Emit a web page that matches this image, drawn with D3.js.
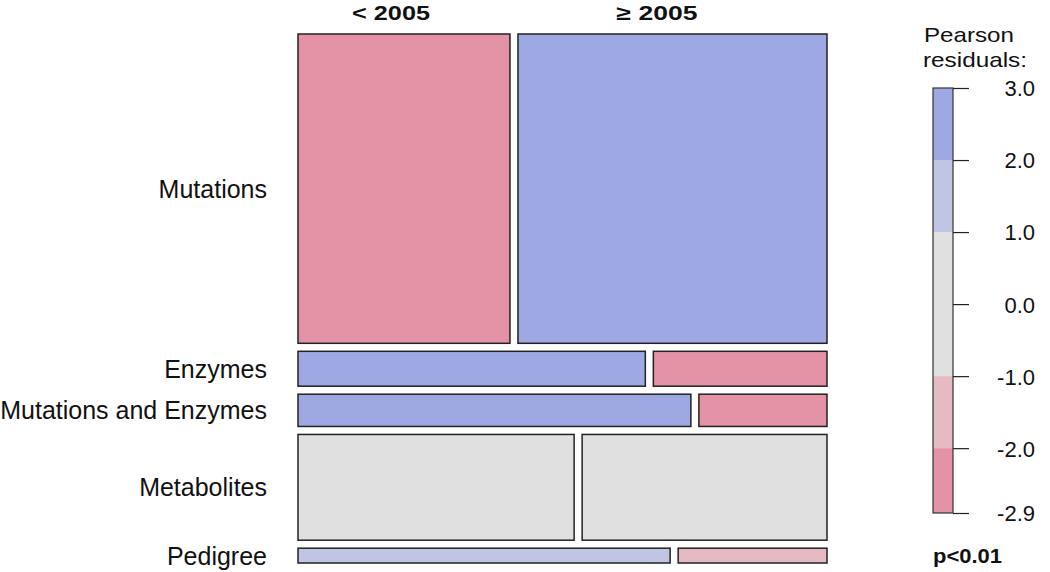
<!DOCTYPE html>
<html><head><meta charset="utf-8">
<script src="https://cdn.jsdelivr.net/npm/d3@7"></script>
<style>body{margin:0;background:#fff}svg{display:block}</style>
</head><body>
<script>
// Data (counts read from tile proportions)
const rows = ["Mutations", "Enzymes", "Mutations and Enzymes", "Metabolites", "Pedigree"];
const cols = ["< 2005", "\u2265 2005"];
const before2005 = [238, 44, 46, 106, 20];
const after2005 = [347, 22, 15, 94, 8];
const legendTicks = [3.0, 2.0, 1.0, 0.0, -1.0, -2.0, -2.9];

const W = 1050, H = 572;
const svg = d3.select("body").append("svg").attr("width", W).attr("height", H);
const SANS = "Liberation Sans, Arial, sans-serif";
const BOLD = "Liberation Sans, Arial, sans-serif";

const counts = rows.map((r, i) => [before2005[i], after2005[i]]);
const rowTot = counts.map(c => c[0] + c[1]);
const colTot = [d3.sum(before2005), d3.sum(after2005)];
const N = d3.sum(rowTot);

const resid = counts.map((c, i) => c.map((o, j) => {
  const e = rowTot[i] * colTot[j] / N;
  return (o - e) / Math.sqrt(e);
}));

function shade(r) {
  if (r >= 2) return "#9ea8e3";
  if (r >= 1) return "#c0c5e4";
  if (r > -1) return "#e0e0e0";
  if (r > -2) return "#e5bac2";
  return "#e393a5";
}

const x0 = 298, x1 = 827, y0 = 34, y1 = 563, gap = 8;
const yScale = d3.scaleLinear().domain([0, N]).range([0, (y1 - y0) - gap * (rows.length - 1)]);
const xScale = d3.scaleLinear().domain([0, 1]).range([0, (x1 - x0) - gap]);

let yc = y0;
const tiles = [];
rows.forEach((r, i) => {
  const h = yScale(rowTot[i]);
  let xc = x0;
  counts[i].forEach((c, j) => {
    const w = xScale(c / rowTot[i]);
    tiles.push({x: xc, y: yc, w, h, res: resid[i][j]});
    xc += w + gap;
  });
  svg.append("text").attr("x", 267).attr("y", yc + h / 2 + 9).attr("text-anchor", "end")
    .attr("font-family", SANS).attr("font-size", 25).attr("fill", "#111").text(r);
  yc += h + gap;
});

svg.selectAll("rect.tile").data(tiles).join("rect").attr("class", "tile")
  .attr("x", d => d.x).attr("y", d => d.y).attr("width", d => d.w).attr("height", d => d.h)
  .attr("fill", d => shade(d.res)).attr("stroke", "#222").attr("stroke-width", 1.5);

// column labels
const colX = [391, 657];
const colW = [78, 81];
cols.forEach((c, j) => {
  svg.append("text").attr("x", colX[j] - colW[j] / 2).attr("y", 20)
    .attr("font-family", BOLD).attr("font-weight", "bold").attr("textLength", colW[j])
    .attr("lengthAdjust", "spacingAndGlyphs")
    .attr("font-size", 20).attr("fill", "#111").text(c);
});

// legend
const lx = 933, lw = 20;
const ls = d3.scaleLinear().domain([-2.9, 3.0]).range([513, 88]);
const bands = [[2, 3.0], [1, 2], [-1, 1], [-2, -1], [-2.9, -2]];
svg.selectAll("rect.band").data(bands).join("rect").attr("class", "band")
  .attr("x", lx).attr("width", lw).attr("y", d => ls(d[1])).attr("height", d => ls(d[0]) - ls(d[1]))
  .attr("fill", d => shade((d[0] + d[1]) / 2));
svg.append("rect").attr("x", lx).attr("y", ls(3.0)).attr("width", lw).attr("height", ls(-2.9) - ls(3.0))
  .attr("fill", "none").attr("stroke", "#333").attr("stroke-width", 1.2);
const axis = d3.axisRight(ls).tickValues(legendTicks).tickFormat(d => d.toFixed(1)).tickSize(16).tickPadding(0);
const ag = svg.append("g").attr("transform", `translate(${lx + lw},0)`).call(axis);
ag.select(".domain").remove();
ag.selectAll(".tick line").attr("stroke", "#222").attr("stroke-width", 1.2);
ag.selectAll(".tick text").attr("x", 82).attr("dy", "0.36em").attr("text-anchor", "end")
  .attr("font-family", SANS).attr("font-size", 22).attr("fill", "#111");

svg.append("text").attr("x", 924).attr("y", 42).attr("font-family", SANS)
  .attr("font-size", 21).attr("fill", "#111").attr("textLength", 90).attr("lengthAdjust", "spacingAndGlyphs").text("Pearson");
svg.append("text").attr("x", 923).attr("y", 67).attr("font-family", SANS)
  .attr("font-size", 21).attr("fill", "#111").attr("textLength", 104).attr("lengthAdjust", "spacingAndGlyphs").text("residuals:");
svg.append("text").attr("x", 933).attr("y", 563).attr("font-family", BOLD)
  .attr("font-weight", "bold").attr("font-size", 20).attr("fill", "#111")
  .attr("textLength", 69).attr("lengthAdjust", "spacingAndGlyphs").text("p<0.01");
</script>
</body></html>
